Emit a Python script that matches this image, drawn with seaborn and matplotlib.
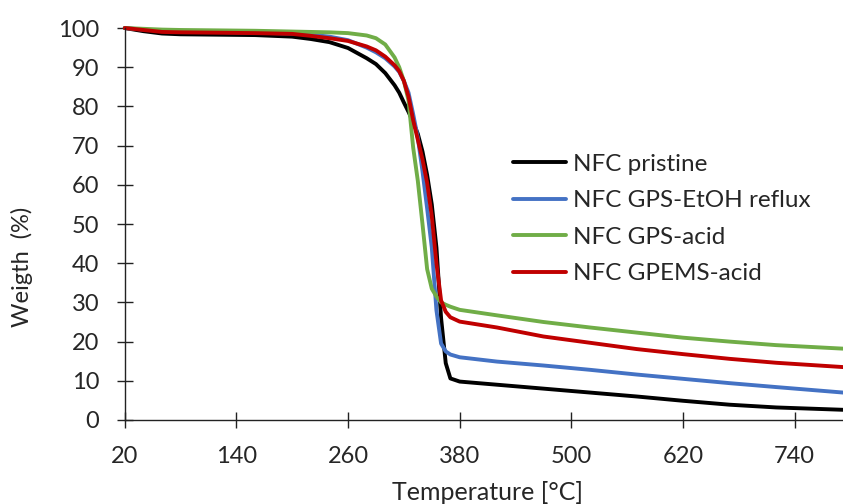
import numpy as np
import pandas as pd
import matplotlib
matplotlib.use('Agg')
import matplotlib.pyplot as plt
import seaborn as sns

# TGA curves
temperature = [20, 40, 60, 80, 120, 160, 200, 220, 240, 260, 280, 290, 300, 310, 315, 320, 325, 330,
               335, 340, 345, 350, 355, 360, 365, 370, 380, 420, 470, 520, 570, 620, 670, 720, 792]

pristine = [100, 99.2, 98.6, 98.4, 98.3, 98.2, 97.8, 97.2, 96.4, 94.9, 92.3, 90.8, 88.5, 85.4, 83.5, 81.0,
            78.6, 76.0, 73.0, 68.5, 62.5, 55, 44, 26, 14.5, 10.6, 9.8, 9.0, 8.0, 7.0, 6.0, 4.9, 3.9, 3.2, 2.6]
gps_etoh = [100, 99.6, 99.3, 99.1, 99.0, 98.8, 98.6, 98.3, 97.8, 96.9, 95.0, 93.8, 92.3, 90.2, 88.8, 86.5,
            83.5, 78, 72, 63.5, 54, 44, 28, 19.5, 17.5, 16.7, 16.0, 14.9, 13.9, 12.8, 11.6, 10.5, 9.4, 8.4, 7.0]
gps_acid = [100, 99.8, 99.6, 99.5, 99.4, 99.3, 99.1, 99.0, 98.9, 98.7, 98.1, 97.4, 95.8, 92.5, 90.0, 86.5,
            81.5, 69.5, 61, 50, 38.5, 33.5, 31.5, 30.0, 29.4, 28.9, 28.1, 26.7, 25.0, 23.6, 22.3, 21.0, 20.0, 19.1, 18.2]
gpems_acid = [100, 99.5, 99.0, 98.9, 98.8, 98.7, 98.5, 98.0, 97.4, 96.7, 95.3, 94.3, 92.7, 90.5, 89.0, 86.5,
              82.5, 76.5, 71.5, 66.5, 60.5, 52, 40, 30.5, 27.6, 26.2, 25.1, 23.6, 21.3, 19.7, 18.1, 16.8, 15.6, 14.6, 13.5]

labels = ['NFC pristine', 'NFC GPS-EtOH reflux', 'NFC GPS-acid', 'NFC GPEMS-acid']
colors = ['#000000', '#4472C4', '#70AD47', '#C00000']

frames = []
for lab, vals in zip(labels, [pristine, gps_etoh, gps_acid, gpems_acid]):
    frames.append(pd.DataFrame({'T': temperature, 'W': vals, 'sample': lab}))
df = pd.concat(frames, ignore_index=True)

sns.set_style('white')
plt.rcParams['font.family'] = ['Lato', 'DejaVu Sans']

fig = plt.figure(figsize=(8.43, 5.04), dpi=100)
ax = fig.add_axes([0.148, 0.1667, 0.852, 0.7777])

sns.lineplot(data=df, x='T', y='W', hue='sample', palette=colors, linewidth=2.8,
             ax=ax, legend=True)
for ln in ax.lines:
    ln.set_clip_on(False)
    ln.set_solid_joinstyle('round')

ax.set_xlim(20, 792)
ax.set_ylim(0, 100)
ax.set_xticks([20, 140, 260, 380, 500, 620, 740])
ax.set_yticks(np.arange(0, 101, 10))

for s in ['top', 'right']:
    ax.spines[s].set_visible(False)
for s in ['left', 'bottom']:
    ax.spines[s].set_color('#222222')
    ax.spines[s].set_linewidth(1.0)

ax.tick_params(axis='both', direction='inout', length=12, width=1.0, color='#222222',
               labelsize=17, bottom=True, left=True)
ax.tick_params(axis='x', pad=13)
ax.tick_params(axis='y', pad=12.5)

ax.set_xlabel('Temperature [°C]', fontsize=18, va='center')
ax.set_ylabel('Weigth  (%)', fontsize=17, va='center')
ax.xaxis.set_label_coords(0.5056, -0.186)
ax.yaxis.set_label_coords(-0.1435, 0.39)

leg = ax.legend(loc='center left', bbox_to_anchor=(0.527, 0.513), frameon=False, fontsize=17.5,
                handlelength=2.2, handletextpad=0.25, labelspacing=0.64, borderaxespad=0)

fig.savefig('out.png', dpi=100)
